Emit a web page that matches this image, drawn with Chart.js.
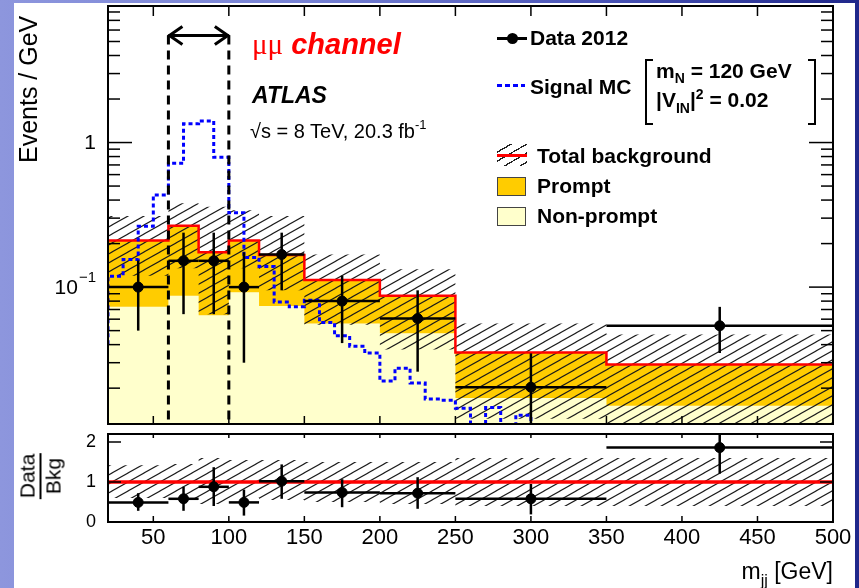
<!DOCTYPE html>
<html>
<head>
<meta charset="utf-8">
<script src="https://cdn.jsdelivr.net/npm/chart.js@4.4.1/dist/chart.umd.min.js"></script>
<style>
  body { margin: 0; width: 859px; height: 588px; overflow: hidden; position: relative;
         background: linear-gradient(90deg, #8d96dd 0%, #7782d5 35%, #4a54b7 70%, #1f278a 100%);
         font-family: 'Liberation Sans', Arial, sans-serif; }
  .sheet { position: absolute; left: 14px; top: 3px; width: 841px; height: 585px; background: #fff; }
  canvas { position: absolute; left: 0; }
  #main { top: 0; }
  #ratio { top: 428px; }
  .txt { position: absolute; white-space: nowrap; color: #000; line-height: 1; }
  .b { font-weight: bold; }
  .sym { position: absolute; }
  sub, sup { line-height: 0; }
</style>
</head>
<body>
<div class="sheet"></div>
<canvas id="main" width="859" height="430"></canvas>
<canvas id="ratio" width="859" height="160"></canvas>

<!-- axis titles -->
<div class="txt" style="left:16px; top:163px; font-size:25px; line-height:25px; transform-origin:left top; transform:rotate(-90deg);">Events / GeV</div>
<div class="txt" style="left:40px; top:476px; font-size:21px; text-align:center; transform:translate(-50%,-50%) rotate(-90deg);">
  <div style="border-bottom:2px solid #000; padding:0 1px 2px;">Data</div>
  <div style="padding-top:1px;">Bkg</div>
</div>
<div class="txt" style="right:26px; top:560px; font-size:23px;">m<sub style="font-size:16px; vertical-align:-7px;">jj</sub> [GeV]</div>

<!-- labels -->
<div class="txt" style="left:252px; top:30px; font-size:29px; color:#f00;"><span style="font-family:'Liberation Serif',serif;">μμ</span> <b><i>channel</i></b></div>
<div class="txt b" style="left:252px; top:84px; font-size:23px; font-style:italic;">ATLAS</div>
<div class="txt" style="left:250px; top:121px; font-size:20px;">√s = 8 TeV, 20.3 fb<sup style="font-size:13px; vertical-align:9px;">-1</sup></div>

<!-- legend -->
<div class="sym" style="left:497px; top:37px; width:30px; height:3px; background:#000;"></div>
<div class="sym" style="left:507px; top:33px; width:11px; height:11px; border-radius:50%; background:#000;"></div>
<div class="txt b" style="left:530px; top:27px; font-size:21px;">Data 2012</div>

<div class="sym" style="left:497px; top:84px; width:28px; height:3px; background:repeating-linear-gradient(90deg,#0000ff 0 5px,transparent 5px 8px);"></div>
<div class="txt b" style="left:530px; top:76px; font-size:21px;">Signal MC</div>
<div class="sym" style="left:645px; top:59px; width:6px; height:62px; border:2px solid #000; border-right:none;"></div>
<div class="sym" style="left:808px; top:59px; width:6px; height:62px; border:2px solid #000; border-left:none;"></div>
<div class="txt b" style="left:656px; top:60px; font-size:21px;">m<sub style="font-size:14px; vertical-align:-5px;">N</sub> = 120 GeV</div>
<div class="txt b" style="left:656px; top:89px; font-size:21px;">|V<sub style="font-size:14px; vertical-align:-6px;">IN</sub>|<sup style="font-size:14px; vertical-align:8px;">2</sup> = 0.02</div>

<div class="sym" style="left:497px; top:144px; width:30px; height:22px; background:repeating-linear-gradient(150deg,transparent 0 6.5px,#222 6.5px 7.8px);"></div>
<div class="sym" style="left:497px; top:154px; width:30px; height:3px; background:#f00;"></div>
<div class="txt b" style="left:537px; top:145px; font-size:21px;">Total background</div>

<div class="sym" style="left:497px; top:177px; width:27px; height:17px; background:#ffcc00; border:1px solid #444;"></div>
<div class="txt b" style="left:537px; top:175px; font-size:21px;">Prompt</div>

<div class="sym" style="left:497px; top:207px; width:27px; height:17px; background:#ffffcc; border:1px solid #444;"></div>
<div class="txt b" style="left:537px; top:205px; font-size:21px;">Non-prompt</div>

<script>
const FONT = "'Liberation Sans', Arial, sans-serif";

// background histograms (events / GeV), bins of m_jj
const binEdges = [20, 60, 80, 100, 120, 150, 200, 250, 350, 500];
const nonPrompt = [0.073, 0.087, 0.064, 0.092, 0.074, 0.056, 0.048, 0.0171, 0.0151];
const totalBkg = [0.21, 0.266, 0.174, 0.21, 0.167, 0.112, 0.087, 0.0353, 0.0292];
const bandUp = [0.31, 0.38, 0.36, 0.34, 0.31, 0.168, 0.133, 0.056, 0.047];
const bandDown = [0.12, 0.135, 0.065, 0.135, 0.095, 0.055, 0.037, 0.0123, 0.009];

// data 2012
const dataX = [40, 70, 90, 110, 135, 175, 225, 300, 425];
const dataY = [0.1, 0.152, 0.152, 0.1, 0.168, 0.08, 0.0606, 0.0203, 0.054];
const dataUp = [0.153, 0.238, 0.238, 0.174, 0.238, 0.12, 0.095, 0.0348, 0.073];
const dataDown = [0.05, 0.065, 0.065, 0.03, 0.095, 0.041, 0.026, 0.005, 0.035];

// signal MC, 10 GeV bins
const sigEdges = [10, 20, 30, 40, 50, 60, 70, 80, 90, 100, 110, 120, 130, 140, 150, 160,
                  170, 180, 190, 200, 210, 220, 230, 240, 250, 260, 270, 280, 290, 300, 310];
const signalMC = [0.041, 0.119, 0.155, 0.264, 0.434, 0.718, 1.35, 1.41, 0.79, 0.327,
                  0.16, 0.139, 0.079, 0.073, 0.081, 0.057, 0.046, 0.039, 0.035, 0.0224,
                  0.0275, 0.0217, 0.0168, 0.0165, 0.0145, 0.0105, 0.0147, 0.0105, 0.013, 0.005];

// ratio panel
const ratioY = [0.49, 0.58, 0.88, 0.49, 1.02, 0.74, 0.72, 0.58, 1.86];
const ratioUp = [0.72, 0.88, 1.37, 0.81, 1.44, 1.07, 1.12, 0.95, 2.4];
const ratioDown = [0.28, 0.28, 0.4, 0.16, 0.58, 0.37, 0.33, 0.19, 1.21];
const ratioBandUp = [1.42, 1.45, 1.6, 1.55, 1.55, 1.5, 1.5, 1.6, 1.6];
const ratioBandDown = [0.6, 0.55, 0.45, 0.6, 0.55, 0.5, 0.45, 0.4, 0.4];

// axes
const xMin = 20, xMax = 500;
const xTicks = [50, 100, 150, 200, 250, 300, 350, 400, 450, 500];
const yMin = 0.0113, yMax = 8.8;
const yMajor = [0.1, 1];
const yLabels = ['10', '1'];
const yLabelExp = ['\u22121', ''];
const yMinor = [0.02, 0.03, 0.04, 0.05, 0.06, 0.07, 0.08, 0.09,
                0.2, 0.3, 0.4, 0.5, 0.6, 0.7, 0.8, 0.9, 2, 3, 4, 5, 6, 7, 8];
const ratioTicks = [0, 1, 2];
const ratioMax = 2.2;
const massWindow = [60, 100];
const arrowLevel = 5.5;

function steps(edges, vals) {
    return edges.map((e, i) => ({ x: e, y: vals[Math.min(i, vals.length - 1)] }));
}

function makeHatch(ctx) {
    const c = document.createElement('canvas');
    c.width = 16; c.height = 9;
    const g = c.getContext('2d');
    g.strokeStyle = '#1a1a1a';
    g.lineWidth = 1.1;
    [-9, 0, 9].forEach(dy => {
        g.beginPath();
        g.moveTo(-2, 9 + dy + 18 / 16);
        g.lineTo(18, dy - 18 / 16);
        g.stroke();
    });
    return ctx.createPattern(c, 'repeat');
}

function line(ctx, x1, y1, x2, y2) {
    ctx.beginPath();
    ctx.moveTo(x1, y1);
    ctx.lineTo(x2, y2);
    ctx.stroke();
}

// keep the chart area exactly where the frame should be
function fixedWidth(s) {
    s.width = 100;
    s.paddingTop = 0;
    s.paddingBottom = 0;
}

function fixedHeight(s) {
    s.height = 40;
    s.paddingLeft = 0;
    s.paddingRight = 0;
}

function drawErrors(chart, ys, ups, downs) {
    const { ctx, chartArea: a, scales: { x, y } } = chart;
    ctx.save();
    ctx.beginPath();
    ctx.rect(a.left, a.top, a.width, a.height);
    ctx.clip();
    ctx.strokeStyle = '#000';
    ctx.lineWidth = 2.5;
    dataX.forEach((v, i) => {
        const px = x.getPixelForValue(v);
        const py = y.getPixelForValue(ys[i]);
        line(ctx, x.getPixelForValue(binEdges[i]), py, x.getPixelForValue(binEdges[i + 1]), py);
        line(ctx, px, y.getPixelForValue(ups[i]), px, y.getPixelForValue(downs[i]));
    });
    ctx.restore();
}

function drawFrame(chart, cfg) {
    const { ctx, chartArea: a, scales: { x, y } } = chart;
    ctx.save();
    ctx.strokeStyle = '#000';
    ctx.lineWidth = 1.5;
    xTicks.forEach(v => {
        const px = x.getPixelForValue(v);
        line(ctx, px, a.bottom, px, a.bottom - cfg.xBottom);
        line(ctx, px, a.top, px, a.top + cfg.xTop);
    });
    cfg.yMajor.forEach(v => {
        const py = y.getPixelForValue(v);
        line(ctx, a.left, py, a.left + cfg.yMajLen, py);
        line(ctx, a.right, py, a.right - cfg.yMajLen, py);
    });
    cfg.yMinor.forEach(v => {
        const py = y.getPixelForValue(v);
        line(ctx, a.left, py, a.left + cfg.yMinLen, py);
        line(ctx, a.right, py, a.right - cfg.yMinLen, py);
    });
    ctx.lineWidth = 2;
    ctx.strokeRect(a.left, a.top, a.width, a.height);
    ctx.restore();
}

// log axis labels with a proper superscript exponent
function drawLogLabels(chart) {
    const { ctx, chartArea: a, scales: { y } } = chart;
    ctx.save();
    ctx.fillStyle = '#000';
    ctx.textAlign = 'right';
    ctx.textBaseline = 'middle';
    yMajor.forEach((v, i) => {
        const py = y.getPixelForValue(v);
        let right = a.left - 12;
        if (yLabelExp[i]) {
            ctx.font = '15px ' + FONT;
            ctx.fillText(yLabelExp[i], right, py - 9);
            right -= ctx.measureText(yLabelExp[i]).width + 1;
        }
        ctx.font = '21px ' + FONT;
        ctx.fillText(yLabels[i], right, py + 1);
    });
    ctx.restore();
}

const mainDeco = {
    id: 'mainDeco',
    afterDatasetsDraw(chart) {
        drawErrors(chart, dataY, dataUp, dataDown);
        const { ctx, chartArea: a, scales: { x, y } } = chart;
        const yA = y.getPixelForValue(arrowLevel);
        const x1 = x.getPixelForValue(massWindow[0]);
        const x2 = x.getPixelForValue(massWindow[1]);
        ctx.save();
        ctx.strokeStyle = '#000';
        ctx.lineWidth = 3;
        ctx.setLineDash([9, 6]);
        line(ctx, x1, yA, x1, a.bottom);
        line(ctx, x2, yA, x2, a.bottom);
        ctx.setLineDash([]);
        line(ctx, x1, yA, x2, yA);
        ctx.beginPath();
        ctx.moveTo(x1 + 14, yA - 9); ctx.lineTo(x1 + 1, yA); ctx.lineTo(x1 + 14, yA + 9);
        ctx.moveTo(x2 - 14, yA - 9); ctx.lineTo(x2 - 1, yA); ctx.lineTo(x2 - 14, yA + 9);
        ctx.stroke();
        ctx.restore();
    },
    afterDraw(chart) {
        drawFrame(chart, { xTop: 10, xBottom: 8, yMajor: yMajor, yMinor: yMinor, yMajLen: 24, yMinLen: 12 });
        drawLogLabels(chart);
    }
};

const ratioDeco = {
    id: 'ratioDeco',
    afterDatasetsDraw(chart) {
        drawErrors(chart, ratioY, ratioUp, ratioDown);
    },
    afterDraw(chart) {
        drawFrame(chart, { xTop: 4, xBottom: 6, yMajor: ratioTicks, yMinor: [], yMajLen: 13, yMinLen: 0 });
    }
};

const hidden = { borderColor: 'transparent', borderWidth: 0, pointRadius: 0, stepped: true };

const mainCanvas = document.getElementById('main');
new Chart(mainCanvas, {
    type: 'line',
    data: {
        datasets: [
            { data: dataX.map((v, i) => ({ x: v, y: dataY[i] })), showLine: false, pointRadius: 5,
              pointBackgroundColor: '#000', pointBorderColor: '#000', pointBorderWidth: 1, order: 0 },
            { data: steps(sigEdges, signalMC), stepped: true, borderColor: '#0000ff', borderWidth: 3,
              borderDash: [4, 3], pointRadius: 0, fill: false, order: 1, clip: 0 },
            { data: steps(binEdges, totalBkg), stepped: true, borderColor: '#ff0000', borderWidth: 2.5,
              pointRadius: 0, fill: false, order: 2 },
            { ...hidden, data: steps(binEdges, bandUp), fill: false, order: 3 },
            { ...hidden, data: steps(binEdges, bandDown), fill: 3, backgroundColor: makeHatch(mainCanvas.getContext('2d')), order: 3, clip: 0 },
            { ...hidden, data: steps(binEdges, totalBkg), fill: 6, backgroundColor: '#ffcc00', order: 4 },
            { ...hidden, data: steps(binEdges, nonPrompt), fill: 'start', backgroundColor: '#ffffcc', order: 5 }
        ]
    },
    options: {
        responsive: false,
        animation: false,
        events: [],
        layout: { padding: { left: 8, right: 26, top: 6, bottom: 2 } },
        plugins: { legend: { display: false }, tooltip: { enabled: false } },
        scales: {
            x: { type: 'linear', min: xMin, max: xMax, display: false },
            y: {
                type: 'logarithmic', min: yMin, max: yMax,
                grid: { display: false, drawTicks: false }, border: { display: false },
                afterFit: fixedWidth,
                afterBuildTicks: s => { s.ticks = yMajor.map(v => ({ value: v })); },
                ticks: { display: false }
            }
        }
    },
    plugins: [mainDeco]
});

const ratioCanvas = document.getElementById('ratio');
new Chart(ratioCanvas, {
    type: 'line',
    data: {
        datasets: [
            { data: dataX.map((v, i) => ({ x: v, y: ratioY[i] })), showLine: false, pointRadius: 5,
              pointBackgroundColor: '#000', pointBorderColor: '#000', pointBorderWidth: 1, order: 0 },
            { data: [{ x: xMin, y: 1 }, { x: xMax, y: 1 }], borderColor: '#ff0000', borderWidth: 3.5,
              pointRadius: 0, fill: false, order: 1 },
            { ...hidden, data: steps(binEdges, ratioBandUp), fill: false, order: 2 },
            { ...hidden, data: steps(binEdges, ratioBandDown), fill: 2, backgroundColor: makeHatch(ratioCanvas.getContext('2d')), order: 2, clip: 0 }
        ]
    },
    options: {
        responsive: false,
        animation: false,
        events: [],
        layout: { padding: { left: 8, right: 26, top: 1, bottom: 26 } },
        plugins: { legend: { display: false }, tooltip: { enabled: false } },
        scales: {
            x: {
                type: 'linear', min: xMin, max: xMax,
                grid: { display: false, drawTicks: false }, border: { display: false },
                afterFit: fixedHeight,
                afterBuildTicks: s => { s.ticks = xTicks.map(v => ({ value: v })); },
                ticks: { padding: 3, maxRotation: 0, autoSkip: false, color: '#000', font: { size: 22, family: FONT } }
            },
            y: {
                type: 'linear', min: 0, max: ratioMax,
                grid: { display: false, drawTicks: false }, border: { display: false },
                afterFit: fixedWidth,
                afterBuildTicks: s => { s.ticks = ratioTicks.map(v => ({ value: v })); },
                ticks: { padding: 12, color: '#000', font: { size: 18, family: FONT } }
            }
        }
    },
    plugins: [ratioDeco]
});
</script>
</body>
</html>
